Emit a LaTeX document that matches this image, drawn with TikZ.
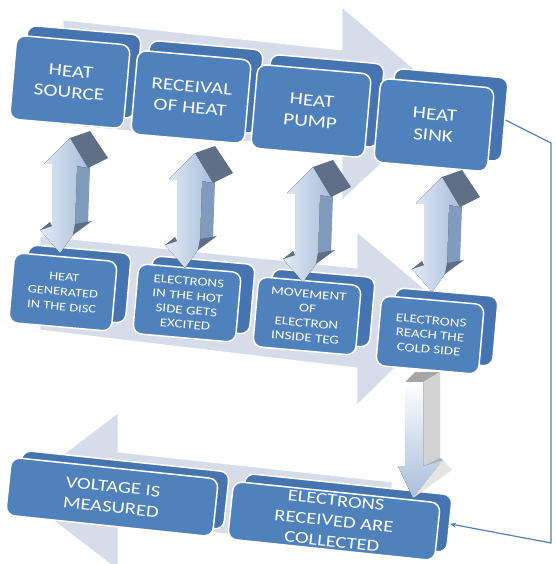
\documentclass[tikz,border=0pt]{standalone}
\usepackage{fontspec}
\newfontfamily\boxfont{Carlito}[FakeStretch=1.25]
\usetikzlibrary{arrows.meta}
\definecolor{boxblue}{RGB}{79,129,189}
\definecolor{boxside}{RGB}{70,116,176}
\definecolor{flowgrey}{RGB}{214,220,233}
\definecolor{headslate}{RGB}{95,111,135}
\definecolor{shaftblue}{RGB}{128,155,190}
\definecolor{shaftpale}{RGB}{226,234,245}
\definecolor{shaftmid}{RGB}{168,189,218}
\def\twoway(#1,#2){%
	\begin{scope}[shift={(#1,#2)}]
		\fill[shaftblue] (17,36) -- (30,37) -- (28,93) -- (15,95) -- cycle;
		\fill[left color=shaftpale, right color=shaftmid] (10,8) -- (28,38) -- (17,36) -- (15,95) -- (13,105) -- (0,123) -- (-20,100) -- (-8,96) -- (-8,34) -- (-16,34) -- cycle;
		\fill[headslate] (10,8) -- (30,1) -- (48,28) -- (28,38) -- cycle;
		\fill[headslate] (15,94) -- (32,91) -- (13,105) -- cycle;
		\fill[headslate] (-20,100) -- (-10,92) -- (-8,96) -- cycle;
	\end{scope}}

\begin{document}
\begin{tikzpicture}[x=1pt, y=-1pt,
	stage/.style={rounded corners=9pt, fill=boxblue, draw=white, line width=1.5pt, text=white, align=center, inner sep=0pt},
	slab/.style={stage, fill=boxside},
	toprow/.style={minimum width=114pt, minimum height=84pt, rotate=-5, font=\boxfont\fontsize{17}{21}\selectfont},
	midrow/.style={minimum width=103pt, minimum height=70pt, rotate=-5, font=\boxfont\fontsize{12}{14.5}\selectfont},
	lowrow/.style={minimum width=208pt, minimum height=58pt, rotate=-6, font=\boxfont\fontsize{16.5}{20.5}\selectfont},
	flow/.style={fill=flowgrey, draw=white, line width=0.8pt},
	feed/.style={draw=boxblue, line width=1.2pt, -{Stealth[length=6pt, width=5pt]}}]
			%%%%% START %%%%%
			\useasboundingbox (0,0) rectangle (555,564);
			\clip (0,0) rectangle (555,564);
			
			% big arrows behind the rows
			\draw[flow] (63,20) -- (342,50) -- (342,7) -- (450,100) -- (342,200) -- (342,150) -- (63,125) -- cycle;
			\draw[flow] (40,236) -- (357,268) -- (357,232) -- (452,312) -- (357,405) -- (357,368) -- (40,330) -- cycle;
			\draw[flow] (392,482) -- (118,452) -- (118,413) -- (15,491) -- (118,570) -- (118,522) -- (392,552) -- cycle;
			
			% top row
			\node[slab, toprow] (srcback) at (81,72) {};
			\node[stage, toprow] (src) at (70,82) {HEAT\\SOURCE};
			\node[slab, toprow] (rcvback) at (203,87) {};
			\node[stage, toprow] (rcv) at (191,97) {RECEIVAL\\OF HEAT};
			\node[slab, toprow] (pmpback) at (324,101) {};
			\node[stage, toprow] (pmp) at (311,111) {HEAT\\PUMP};
			\node[slab, toprow] (snkback) at (448,115) {};
			\node[stage, toprow] (snk) at (434,125) {HEAT\\SINK};
			
			% middle row
			\node[slab, midrow] (genback) at (77,284) {};
			\node[stage, midrow, font=\boxfont\fontsize{11.5}{15}\selectfont] (gen) at (63,292) {HEAT\\GENERATED\\IN THE DISC};
			\node[slab, midrow] (hotback) at (201,295) {};
			\node[stage, midrow] (hot) at (187,303) {ELECTRONS\\IN THE HOT\\SIDE GETS\\EXCITED};
			\node[slab, midrow] (movback) at (321,308) {};
			\node[stage, midrow] (mov) at (307,316) {MOVEMENT\\OF\\ELECTRON\\INSIDE TEG};
			\node[slab, midrow] (cldback) at (444,327) {};
			\node[stage, midrow] (cld) at (430,335) {ELECTRONS\\REACH THE\\COLD SIDE};
			
			% bottom row
			\node[slab, lowrow] (vltback) at (123,490) {};
			\node[stage, lowrow] (vlt) at (112,497) {VOLTAGE IS\\MEASURED};
			\node[slab, lowrow] (colback) at (346,513) {};
			\node[stage, lowrow] (col) at (334,521) {ELECTRONS\\RECEIVED ARE\\COLLECTED};
			
			% two-way arrows between the rows
			\twoway(60,130)
			\twoway(185,145)
			\twoway(303,159)
			\twoway(432,169)
			
			% down arrow to the collector
			\fill[gray!70] (405,382) -- (415,372) -- (440,372) -- (423,382) -- cycle;
			\fill[gray!35] (423,382) -- (440,372) -- (440,458) -- (423,466) -- cycle;
			\fill[top color=white, bottom color=shaftmid] (405,382) -- (423,382) -- (423,466) -- (443,460) -- (413,498) -- (398,466) -- (405,466) -- cycle;
			\fill[gray!60] (423,466) -- (440,458) -- (443,460) -- cycle;
			\fill[gray!20] (443,460) -- (452,470) -- (413,498) -- cycle;
			
			% return line
			\coordinate (bendtop) at (551,143);
			\coordinate (bendlow) at (551,543);
			\draw[feed] (snkback.east) -- (bendtop) -- (bendlow) -- (colback.east);
			%%%%% END %%%%%
\end{tikzpicture}
\end{document}
